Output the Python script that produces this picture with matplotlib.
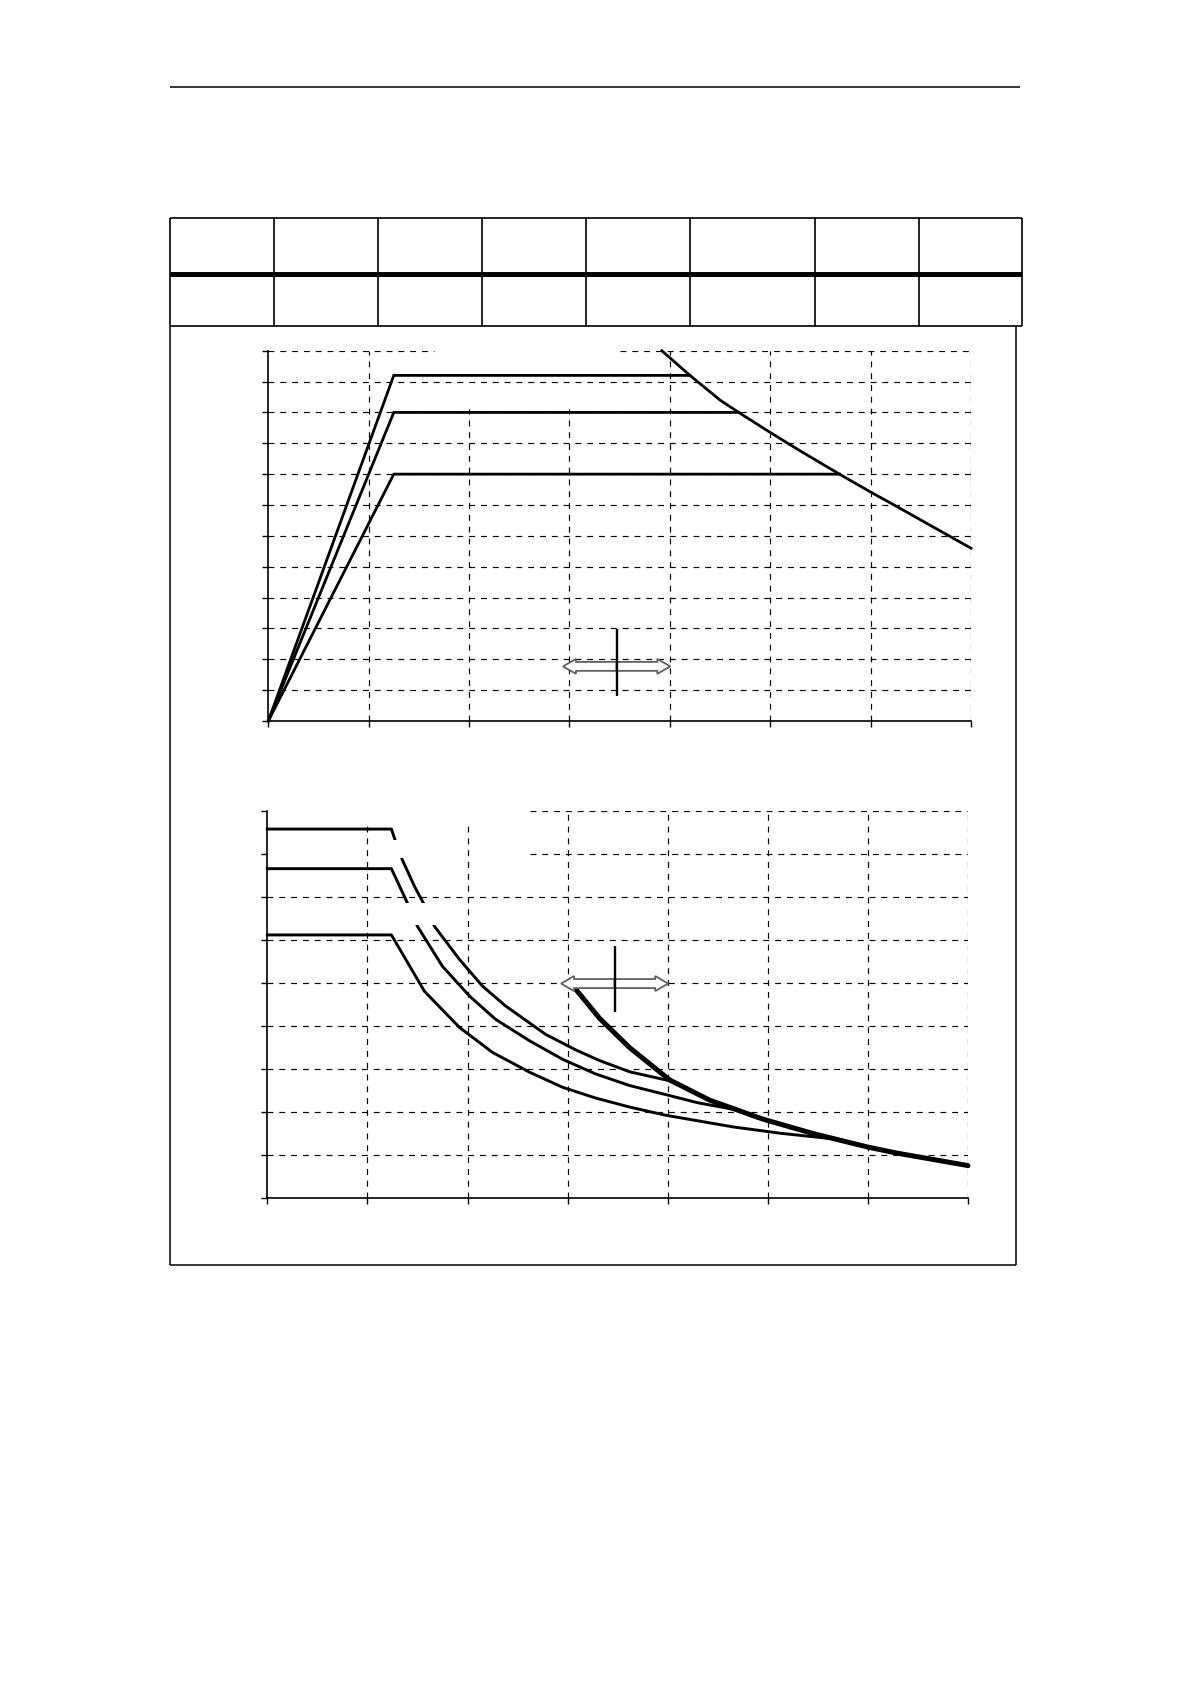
import numpy as np
import matplotlib
matplotlib.use("Agg")
import matplotlib.pyplot as plt
from matplotlib.patches import Rectangle

# ===== Data (grid units) =====
# upper chart: three ramps rising to a plateau, cut by a falling limit curve
knee_x = 1.25
plateau_levels = [11.2, 10.0, 8.0]
limit_x = [3.92, 4.2, 4.5, 4.7, 5.0, 5.3, 5.7, 6.0, 6.3, 6.6, 7.0]
limit_y = [12.0, 11.2, 10.4, 9.97, 9.35, 8.75, 7.98, 7.42, 6.88, 6.33, 5.6]

# lower chart: three thin curves plus the heavy envelope
c1_x = [0, 1.24, 1.27, 1.35, 1.47, 1.56, 1.67, 1.92, 2.15, 2.38, 2.78, 3.08, 3.32, 3.62, 4.02]
c1_y = [8.58, 8.58, 8.37, 7.86, 7.25, 6.86, 6.32, 5.55, 4.93, 4.47, 3.81, 3.45, 3.2, 2.94, 2.73]
c2_x = [0, 1.24, 1.40, 1.50, 1.75, 2.02, 2.28, 2.62, 2.95, 3.28, 3.62, 3.98, 4.3, 4.7]
c2_y = [7.66, 7.66, 6.86, 6.32, 5.39, 4.70, 4.16, 3.66, 3.23, 2.89, 2.62, 2.41, 2.22, 2.05]
c3_x = [0, 1.24, 1.57, 1.92, 2.25, 2.62, 2.95, 3.28, 3.62, 3.98, 4.65, 5.13, 5.7]
c3_y = [6.12, 6.12, 4.81, 3.97, 3.39, 2.93, 2.58, 2.33, 2.12, 1.93, 1.66, 1.51, 1.37]
env_x = [3.07, 3.32, 3.62, 4.02, 4.42, 4.95, 5.46, 6.0, 6.29, 7.0]
env_y = [4.89, 4.18, 3.50, 2.75, 2.28, 1.84, 1.50, 1.19, 1.05, 0.76]

# table columns (page pixels)
col_edges = [170, 274.4, 377.7, 482, 586.4, 689.7, 814.5, 919, 1022]

W, H = 1190, 1684
fig = plt.figure(figsize=(W / 100, H / 100), dpi=100)

# ===== page frame: header rule, empty table, outer box =====
page = fig.add_axes([0, 0, 1, 1], zorder=0)
page.set_xlim(0, W)
page.set_ylim(H, 0)
page.axis("off")
page.hlines(87, 170, 1020, color="black", lw=1.1)
page.hlines([218, 326], col_edges[0], col_edges[-1], color="black", lw=1.2)
page.hlines(274, col_edges[0], col_edges[-1], color="black", lw=3.6)
page.vlines(col_edges, 218, 326, color="black", lw=1.2)
page.vlines([170, 1016], 326, 1265, color="black", lw=1.1)
page.hlines(1265, 170, 1016, color="black", lw=1.1)

DASH = dict(color="black", lw=0.85, linestyle=(0, (5, 5)), zorder=1)


def frame(rect, xmax, ymax):
    ax = fig.add_axes(rect, zorder=2)
    ax.patch.set_alpha(0)
    ax.set_xlim(0, xmax)
    ax.set_ylim(0, ymax)
    for side in ("top", "right"):
        ax.spines[side].set_visible(False)
    for side in ("left", "bottom"):
        ax.spines[side].set_linewidth(1.2)
    ax.set_xticks(range(xmax + 1))
    ax.set_yticks(range(ymax + 1))
    ax.set_xticklabels([])
    ax.set_yticklabels([])
    ax.tick_params(direction="out", length=4, width=1.0)
    return ax


def hollow_arrow(ax, xc, y, half, shaft, head, head_len, bar):
    for d in (-half, half):
        ax.arrow(xc, y, d, 0, width=shaft, head_width=head, head_length=head_len,
                 length_includes_head=True, fc="white", ec="#606060", lw=1.3, zorder=4)
    ax.vlines(xc, bar[0], bar[1], color="black", lw=1.7, zorder=5)


# ===== upper chart =====
ax1 = frame([268.3 / W, 1 - 721 / H, (971 - 268.3) / W, (721 - 350.7) / H], 7, 12)
ax1.hlines(range(1, 12), 0, 7, **DASH)
ax1.hlines(12, 0, 1.65, **DASH)
ax1.hlines(12, 3.5, 7, **DASH)
ax1.vlines([1, 4, 5, 6, 7], 0, 12, **DASH)
ax1.vlines([2, 3], 0, 10.1, **DASH)

for lvl in plateau_levels:
    x_end = np.interp(lvl, limit_y[::-1], limit_x[::-1])
    ax1.plot([0, knee_x, x_end], [0, lvl, lvl], color="black", lw=2.0,
             solid_joinstyle="miter", zorder=3, clip_on=False)
ax1.plot(limit_x, limit_y, color="black", lw=2.0, zorder=3, clip_on=False)
hollow_arrow(ax1, 3.47, 1.77, 0.535, 0.29, 0.48, 0.13, (0.81, 2.98))

# ===== lower chart =====
ax2 = frame([267.3 / W, 1 - 1198.3 / H, (968 - 267.3) / W, (1198.3 - 811) / H], 7, 9)
ax2.hlines(range(1, 8), 0, 7, **DASH)
ax2.hlines([8, 9], 2.62, 7, **DASH)
ax2.vlines([1, 2], 0, 8.75, **DASH)
ax2.vlines([3, 4, 5, 6, 7], 0, 9, **DASH)

for cx, cy in ((c1_x, c1_y), (c2_x, c2_y), (c3_x, c3_y)):
    ax2.plot(cx, cy, color="black", lw=2.1, zorder=3, clip_on=False)
ax2.plot(env_x, env_y, color="black", lw=3.6, solid_capstyle="round", zorder=3, clip_on=False)

# blanks where labels were cut out of the curves
ax2.add_patch(Rectangle((1.25, 7.9), 0.2, 0.43, fc="white", ec="none", zorder=3.5))
ax2.add_patch(Rectangle((1.35, 6.36), 0.4, 0.5, fc="white", ec="none", zorder=3.5))

hollow_arrow(ax2, 3.47, 4.99, 0.535, 0.21, 0.35, 0.13, (4.34, 5.87))

fig.savefig("out.png", dpi=100)
